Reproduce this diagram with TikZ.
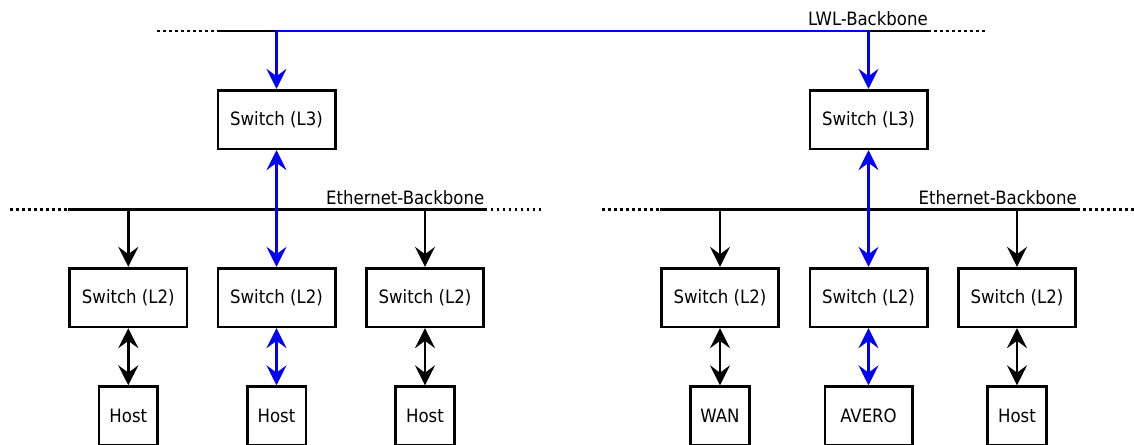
\documentclass[tikz,border=0pt]{standalone}
\usepackage{fontspec}
\setmainfont{DejaVu Sans Condensed}
\usetikzlibrary{arrows.meta}
\definecolor{fibre}{RGB}{0,0,255}
\begin{document}
\begin{tikzpicture}[x=0.75pt,y=-0.75pt,
  >={Stealth[length=15pt,width=15pt,inset=5.5pt]},
  txt/.style={font=\fontsize{13.8}{16}\selectfont},
  box/.style={txt,draw,line width=2pt,fill=white,inner sep=0pt,
    minimum width=88pt,minimum height=44pt},
  hostbox/.style={box,minimum width=44pt},
  widebox/.style={box,minimum width=65.5pt},
  bus/.style={line width=2pt},
  busend/.style={line width=2pt,dash pattern=on 2pt off 2.5pt},
  fib/.style={line width=2pt,draw=fibre},
  lbl/.style={txt,inner sep=0pt,anchor=base east}]
\useasboundingbox (0,0) rectangle (1134,444);

% ---- LWL backbone (top) ----
\coordinate (t0) at (157,31);
\coordinate (t1) at (217,31);
\coordinate (ta) at (276.5,31);
\coordinate (tb) at (868.5,31);
\coordinate (t2) at (928,31);
\coordinate (t3) at (987,31);
\draw[busend] (t0) -- (t1);
\draw[bus] (t1) -- (ta);
\draw[bus] (tb) -- (t2);
\draw[busend] (t2) -- (t3);
\draw[fib] (ta) -- (tb);
\node[lbl] (lwl) at (928,25) {LWL-Backbone};

% ---- layer 3 switches ----
\node[box] (l3a) at (276.5,119.5) {Switch (L3)};
\node[box] (l3b) at (868.5,119.5) {Switch (L3)};
\draw[fib,->,fibre] (ta) -- (l3a);
\draw[fib,->,fibre] (tb) -- (l3b);

% ---- Ethernet backbones ----
\coordinate (ea0) at (10,209.5);
\coordinate (ea1) at (68,209.5);
\coordinate (ea2) at (484.5,209.5);
\coordinate (ea3) at (543,209.5);
\coordinate (eb0) at (602,209.5);
\coordinate (eb1) at (660,209.5);
\coordinate (eb2) at (1077,209.5);
\coordinate (eb3) at (1134,209.5);
\draw[busend] (ea0) -- (ea1);
\draw[bus] (ea1) -- (ea2);
\draw[busend] (ea2) -- (ea3);
\draw[busend] (eb0) -- (eb1);
\draw[bus] (eb1) -- (eb2);
\draw[busend] (eb2) -- (eb3);
\node[lbl] (etha) at (484.5,204) {Ethernet-Backbone};
\node[lbl] (ethb) at (1077,204) {Ethernet-Backbone};

% ---- layer 2 switches ----
\node[box] (a1) at (128.3,297.5) {Switch (L2)};
\node[box] (a2) at (276.5,297.5) {Switch (L2)};
\node[box] (a3) at (425,297.5) {Switch (L2)};
\node[box] (b1) at (720,297.5) {Switch (L2)};
\node[box] (b2) at (868.5,297.5) {Switch (L2)};
\node[box] (b3) at (1017,297.5) {Switch (L2)};

% taps on the Ethernet backbones
\coordinate (ja1) at (128.3,209.5);
\coordinate (ja3) at (425,209.5);
\coordinate (jb1) at (720,209.5);
\coordinate (jb3) at (1017,209.5);
\draw[bus,->] (ja1) -- (a1);
\draw[bus,->] (ja3) -- (a3);
\draw[bus,->] (jb1) -- (b1);
\draw[bus,->] (jb3) -- (b3);

% routed uplinks
\draw[fib,<->,fibre] (l3a) -- (a2);
\draw[fib,<->,fibre] (l3b) -- (b2);

% ---- end devices ----
\node[hostbox] (h1) at (128.3,416) {Host};
\node[hostbox] (h2) at (276.5,416) {Host};
\node[hostbox] (h3) at (425,416) {Host};
\node[hostbox] (wan) at (720,416) {WAN};
\node[widebox] (avero) at (868.5,416) {AVERO};
\node[hostbox] (h4) at (1017,416) {Host};

\draw[bus,<->] (a1) -- (h1);
\draw[fib,<->,fibre] (a2) -- (h2);
\draw[bus,<->] (a3) -- (h3);
\draw[bus,<->] (b1) -- (wan);
\draw[fib,<->,fibre] (b2) -- (avero);
\draw[bus,<->] (b3) -- (h4);
\end{tikzpicture}
\end{document}
